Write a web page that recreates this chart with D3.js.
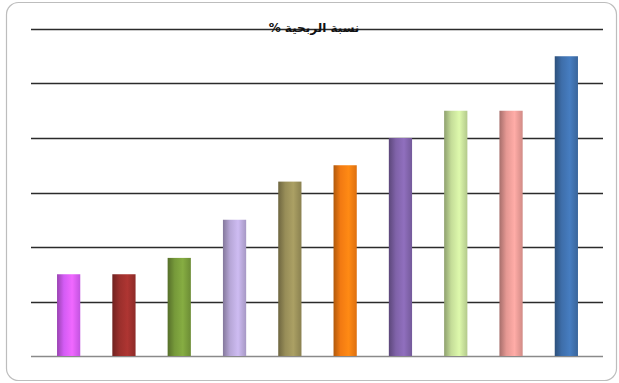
<!DOCTYPE html>
<html>
<head>
<meta charset="utf-8">
<script src="https://cdnjs.cloudflare.com/ajax/libs/d3/7.8.5/d3.min.js"></script>
<style>
  html, body { margin: 0; padding: 0; background: #fff; }
  svg { display: block; }
</style>
</head>
<body>
<script>
// Profitability ratio per category (percent)
const categories = ["1", "2", "3", "4", "5", "6", "7", "8", "9", "10"];
const values = [15, 15, 18, 25, 32, 35, 40, 45, 45, 55];
const barColors = ["#d45cf5", "#9a2f2c", "#76993a", "#b6a6d6", "#978d58", "#f27a12",
                   "#7f62a8", "#c4dc98", "#e59893", "#3e6eaa"];
const gridTicks = [0, 10, 20, 30, 40, 50, 60];
const title = "نسبة الربحية %";

const W = 619, H = 383;
const svg = d3.select("body").append("svg").attr("width", W).attr("height", H);

// rounded outer frame
svg.append("rect")
  .attr("x", 6.5).attr("y", 2.5).attr("width", 610).attr("height", 378)
  .attr("rx", 12).attr("ry", 12)
  .attr("fill", "#fff").attr("stroke", "#bdbdbd").attr("stroke-width", 1.2);

const y = d3.scaleLinear().domain([0, 60]).range([356, 29]);
const x = d3.scaleBand().domain(categories).range([41, 594]).paddingInner(0.58).paddingOuter(0.29);

// horizontal gridlines
svg.append("g").selectAll("line")
  .data(gridTicks)
  .join("line")
  .attr("x1", 31).attr("x2", 603)
  .attr("y1", d => Math.round(y(d)) + 0.5).attr("y2", d => Math.round(y(d)) + 0.5)
  .attr("stroke", d => d === 0 ? "#8a8a8a" : "#2b2b2b")
  .attr("stroke-width", d => d === 0 ? 1.3 : 1.4);

// cylinder-style horizontal gradients
const defs = svg.append("defs");
barColors.forEach((c, i) => {
  const base = d3.color(c);
  const g = defs.append("linearGradient").attr("id", "bar" + i)
    .attr("x1", "0%").attr("x2", "100%").attr("y1", "0%").attr("y2", "0%");
  g.append("stop").attr("offset", "0%").attr("stop-color", base.darker(0.9));
  g.append("stop").attr("offset", "30%").attr("stop-color", base);
  g.append("stop").attr("offset", "65%").attr("stop-color", base.brighter(0.35));
  g.append("stop").attr("offset", "100%").attr("stop-color", base.darker(0.25));
});

svg.append("g").selectAll("rect")
  .data(values)
  .join("rect")
  .attr("x", (d, i) => x(categories[i]))
  .attr("width", x.bandwidth())
  .attr("y", d => y(d))
  .attr("height", d => y(0) - y(d))
  .attr("fill", (d, i) => `url(#bar${i})`);

svg.append("text")
  .attr("x", 314).attr("y", 32)
  .attr("text-anchor", "middle")
  .attr("direction", "rtl")
  .attr("font-family", "'DejaVu Sans', sans-serif")
  .attr("font-weight", "bold")
  .attr("font-size", 12)
  .attr("fill", "#111")
  .text(title);
</script>
</body>
</html>
